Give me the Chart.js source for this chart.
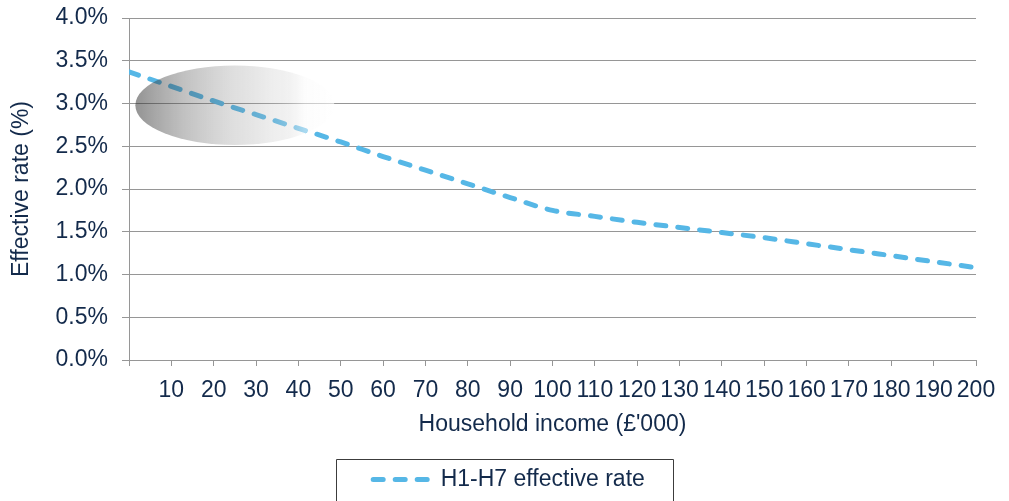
<!DOCTYPE html>
<html>
<head>
<meta charset="utf-8">
<script src="https://cdn.jsdelivr.net/npm/chart.js@4.4.1/dist/chart.umd.min.js"></script>
<style>
    html, body { margin: 0; padding: 0; background: #fff; overflow: hidden; }
    #chart01 { display: block; }
</style>
</head>
<body>
<canvas id="chart01" width="1009" height="501"></canvas>
<script>
// household income (£'000) and effective rate (%)
const incomes = [0, 10, 20, 30, 40, 50, 60, 70, 80, 90, 100, 110, 120, 130, 140, 150, 160, 170, 180, 190, 200];
const effectiveRate = [3.37, 3.20, 3.03, 2.87, 2.71, 2.55, 2.38, 2.22, 2.06, 1.90, 1.75, 1.68, 1.61, 1.55, 1.49, 1.43, 1.36, 1.29, 1.22, 1.15, 1.08];
const seriesName = 'H1-H7 effective rate';
const xTitle = "Household income (£'000)";
const yTitle = 'Effective rate (%)';

const textColor = '#132a4b';
const gridColor = '#969696';
const lineColor = '#56b7e6';
const fontFamily = '"Liberation Sans", Arial, sans-serif';

// grey highlight ellipse sitting over the top-left of the line (in data units)
const highlight = { x: 25, y: 2.98, rx: 23.5, ry: 0.465 };
const legendShift = 21;

const ctx01 = document.getElementById('chart01');

const highlightPlugin = {
    id: 'highlight',
    afterDatasetsDraw(chart) {
        const { ctx, scales: { x, y } } = chart;
        const cx = x.getPixelForValue(highlight.x);
        const cy = y.getPixelForValue(highlight.y);
        const rx = x.getPixelForValue(highlight.x + highlight.rx) - cx;
        const ry = cy - y.getPixelForValue(highlight.y + highlight.ry);
        const grad = ctx.createLinearGradient(cx - rx, 0, cx + rx, 0);
        grad.addColorStop(0, 'rgba(40,40,40,0.5)');
        grad.addColorStop(0.25, 'rgba(70,70,70,0.33)');
        grad.addColorStop(0.5, 'rgba(110,110,110,0.22)');
        grad.addColorStop(0.7, 'rgba(190,190,190,0.25)');
        grad.addColorStop(0.85, 'rgba(250,250,250,0.5)');
        grad.addColorStop(1, 'rgba(255,255,255,0.6)');
        ctx.save();
        ctx.beginPath();
        ctx.ellipse(cx, cy, rx, ry, 0, 0, Math.PI * 2);
        ctx.fillStyle = grad;
        ctx.fill();
        ctx.restore();
    }
};

// nudge the legend a little right, then frame it (frame open at the bottom)
const legendFramePlugin = {
    id: 'legendFrame',
    afterLayout(chart) {
        chart.legend.left += legendShift;
        chart.legend.right += legendShift;
    },
    afterDraw(chart) {
        const hb = chart.legend.legendHitBoxes[0];
        if (!hb) return;
        const { ctx } = chart;
        const midY = hb.top + hb.height / 2;
        const left = Math.round(hb.left - 37) + 0.5;
        const right = Math.round(hb.left + hb.width + 28) + 0.5;
        const top = Math.round(midY - 21) + 0.5;
        ctx.save();
        ctx.strokeStyle = '#3c3c3c';
        ctx.lineWidth = 1;
        ctx.beginPath();
        ctx.moveTo(left, chart.height + 5);
        ctx.lineTo(left, top);
        ctx.lineTo(right, top);
        ctx.lineTo(right, chart.height + 5);
        ctx.stroke();
        ctx.restore();
    }
};

const chart = new Chart(ctx01, {
    type: 'line',
    data: {
        datasets: [{
            label: seriesName,
            data: incomes.map((v, i) => ({ x: v, y: effectiveRate[i] })),
            borderColor: lineColor,
            backgroundColor: lineColor,
            borderWidth: 5,
            borderDash: [10, 12],
            borderCapStyle: 'round',
            cubicInterpolationMode: 'monotone',
            pointRadius: 0,
            fill: false
        }]
    },
    options: {
        responsive: false,
        animation: false,
        devicePixelRatio: 1,
        layout: { padding: { left: 0, right: 33, top: 18, bottom: 0 } },
        plugins: {
            tooltip: { enabled: false },
            legend: {
                position: 'bottom',
                labels: {
                    color: textColor,
                    font: { family: fontFamily, size: 23 },
                    usePointStyle: true,
                    pointStyleWidth: 56,
                    boxHeight: 10,
                    padding: 12,
                    generateLabels: () => [{
                        text: seriesName,
                        pointStyle: 'line',
                        strokeStyle: lineColor,
                        fillStyle: lineColor,
                        lineWidth: 5,
                        lineDash: [10, 12],
                        lineCap: 'round',
                        fontColor: textColor,
                        datasetIndex: 0
                    }]
                }
            }
        },
        scales: {
            x: {
                type: 'linear',
                min: 0,
                max: 200,
                afterFit: (scale) => {
                    scale.height = scale.chart.height - scale.chart.legend.height - 360;
                    scale.paddingTop = 0;
                },
                ticks: {
                    stepSize: 10,
                    autoSkip: false,
                    maxRotation: 0,
                    color: textColor,
                    padding: 11,
                    font: { family: fontFamily, size: 23 },
                    callback: (v) => (v === 0 ? '' : v)
                },
                grid: { drawOnChartArea: false, drawTicks: true, tickLength: 6, color: gridColor },
                border: { color: gridColor, width: 1 },
                title: {
                    display: true,
                    text: xTitle,
                    color: textColor,
                    font: { family: fontFamily, size: 23 },
                    padding: { top: 0, bottom: 18 }
                }
            },
            y: {
                min: 0,
                max: 4,
                afterFit: (scale) => {
                    scale.width = 129;
                    scale.paddingTop = 0;
                },
                ticks: {
                    stepSize: 0.5,
                    color: textColor,
                    padding: 14,
                    font: { family: fontFamily, size: 23 },
                    callback: (v) => v.toFixed(1) + '%'
                },
                grid: { color: gridColor, tickLength: 7, lineWidth: 1 },
                border: { color: gridColor, width: 1 },
                title: {
                    display: true,
                    text: yTitle,
                    color: textColor,
                    font: { family: fontFamily, size: 23 },
                    padding: { top: 8, bottom: 0 }
                }
            }
        }
    },
    plugins: [highlightPlugin, legendFramePlugin]
});
</script>
</body>
</html>
